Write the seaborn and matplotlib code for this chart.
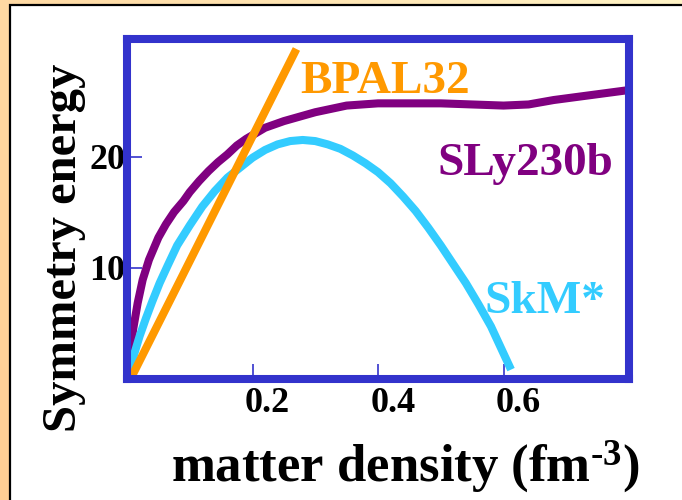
import numpy as np
import pandas as pd
import matplotlib
matplotlib.use("Agg")
import matplotlib.pyplot as plt
import matplotlib.transforms as mtransforms
from matplotlib.patches import Rectangle
from matplotlib.colors import LinearSegmentedColormap
import seaborn as sns

# Symmetry energy vs. matter density for three effective interactions
density_sly = [0.0, 0.005, 0.01, 0.017, 0.025, 0.035, 0.05, 0.062, 0.075, 0.09, 0.10,
               0.115, 0.13, 0.145, 0.16, 0.175, 0.19, 0.205, 0.22, 0.235, 0.25, 0.275,
               0.30, 0.325, 0.35, 0.40, 0.45, 0.50, 0.55, 0.60, 0.64, 0.68, 0.72, 0.76, 0.80]
esym_sly = [0.6, 2.5, 4.5, 6.8, 8.9, 10.7, 12.7, 13.9, 15.0, 16.0, 16.8,
            17.8, 18.7, 19.5, 20.2, 21.0, 21.6, 22.1, 22.6, 22.9, 23.2, 23.6,
            24.0, 24.3, 24.6, 24.8, 24.8, 24.8, 24.7, 24.6, 24.7, 25.1, 25.4, 25.7, 26.0]

density_skm = [0.005, 0.012, 0.02, 0.03, 0.04, 0.052, 0.065, 0.08, 0.10, 0.12, 0.14,
               0.16, 0.18, 0.20, 0.22, 0.24, 0.26, 0.28, 0.30, 0.32, 0.34, 0.36,
               0.38, 0.40, 0.42, 0.44, 0.46, 0.48, 0.50, 0.52, 0.54, 0.56, 0.58, 0.612]
esym_skm = [0.8, 2.3, 3.8, 5.4, 6.9, 8.6, 10.2, 12.0, 13.8, 15.5, 16.9,
            18.1, 19.0, 19.9, 20.6, 21.1, 21.4, 21.5, 21.4, 21.1, 20.7, 20.1,
            19.4, 18.6, 17.6, 16.4, 15.1, 13.6, 12.0, 10.3, 8.6, 6.7, 4.7, 0.8]

density_bpal = [0.006, 0.27]
esym_bpal = [0.0, 29.7]

model_names = ["SLy230b", "SkM*", "BPAL32"]
x_ticks = [0.2, 0.4, 0.6]
x_tick_labels = ["0.2", "0.4", "0.6"]
y_ticks = [10, 20]
y_tick_labels = ["10", "20"]

palette = {"SLy230b": "#800080", "SkM*": "#33CCFF", "BPAL32": "#FF9900"}
frame_color = "#3333CC"

df = pd.concat([
    pd.DataFrame({"density": density_sly, "esym": esym_sly, "model": model_names[0]}),
    pd.DataFrame({"density": density_skm, "esym": esym_skm, "model": model_names[1]}),
    pd.DataFrame({"density": density_bpal, "esym": esym_bpal, "model": model_names[2]}),
], ignore_index=True)

sns.set_style("white")
plt.rcParams["font.family"] = ["Liberation Serif", "DejaVu Serif"]
plt.rcParams["font.weight"] = "bold"
plt.rcParams["text.color"] = "black"
plt.rcParams["axes.labelcolor"] = "black"
plt.rcParams["mathtext.fontset"] = "custom"
plt.rcParams["mathtext.rm"] = "Liberation Serif:bold"
plt.rcParams["mathtext.bf"] = "Liberation Serif:bold"
plt.rcParams["mathtext.it"] = "Liberation Serif:bold:italic"

fig = plt.figure(figsize=(6.82, 5.0), dpi=100)

# peach gradient backdrop
bg = fig.add_axes([0, 0, 1, 1], zorder=-10)
gx = np.linspace(0, 1, 256)
gy = np.linspace(0, 1, 256)
grad = 0.7 * gx[None, :] + 0.3 * gy[:, None]
cmap = LinearSegmentedColormap.from_list("peach", ["#FFCE94", "#FFF4C6"])
bg.imshow(grad, cmap=cmap, origin="lower", extent=[0, 1, 0, 1], aspect="auto")
bg.set_axis_off()

# white panel with dark left/top edge
panel = Rectangle((10 / 682, -0.05), 1.0, 495 / 500 + 0.05,
                  transform=fig.transFigure, facecolor="white",
                  edgecolor="black", lw=1.6, zorder=-5)
fig.add_artist(panel)

ax = fig.add_axes([127 / 682, 121.5 / 500, 502 / 682, 339.5 / 500])
sns.lineplot(data=df, x="density", y="esym", hue="model", palette=palette,
             sort=False, estimator=None, lw=5.8, legend=False, ax=ax)
for line in ax.get_lines():
    line.set_solid_capstyle("butt")
    line.set_solid_joinstyle("round")

ax.set_xlim(0, 0.8)
ax.set_ylim(0, 30.6)

for s in ax.spines.values():
    s.set_visible(True)
    s.set_color(frame_color)
    s.set_linewidth(5.8)

ax.set_xticks(x_ticks)
ax.set_xticklabels(x_tick_labels)
ax.set_yticks(y_ticks)
ax.set_yticklabels(y_tick_labels)
ax.tick_params(axis="both", direction="in", length=11, width=1.2,
               color=frame_color, labelsize=26, labelcolor="black",
               bottom=True, left=True, top=False, right=False)
ax.tick_params(axis="x", pad=6)
ax.tick_params(axis="y", pad=1)

shift = mtransforms.ScaledTranslation(15 / 100, 0, fig.dpi_scale_trans)
for lbl in ax.get_xticklabels():
    lbl.set_transform(lbl.get_transform() + shift)
    lbl.set_fontweight("bold")
for lbl in ax.get_yticklabels():
    lbl.set_fontweight("bold")

ax.set_xlabel("matter density (fm$^{\\mathbf{\u20103}}$)", fontsize=38,
              fontweight="bold", color="black")
ax.xaxis.set_label_coords(0.554, -0.177)
ax.set_ylabel("Symmetry energy", fontsize=35, fontweight="bold", color="black")
ax.yaxis.set_label_coords(-0.081, 0.384)

# curve names
ax.text(0.276, 25.7, "BPAL32", color=palette["BPAL32"], fontsize=34,
        fontweight="bold", ha="left", va="baseline")
ax.text(0.495, 18.3, "SLy230b", color=palette["SLy230b"], fontsize=34,
        fontweight="bold", ha="left", va="baseline")
ax.text(0.570, 5.9, "SkM*", color=palette["SkM*"], fontsize=34,
        fontweight="bold", ha="left", va="baseline")

fig.savefig("out.png", dpi=100)
